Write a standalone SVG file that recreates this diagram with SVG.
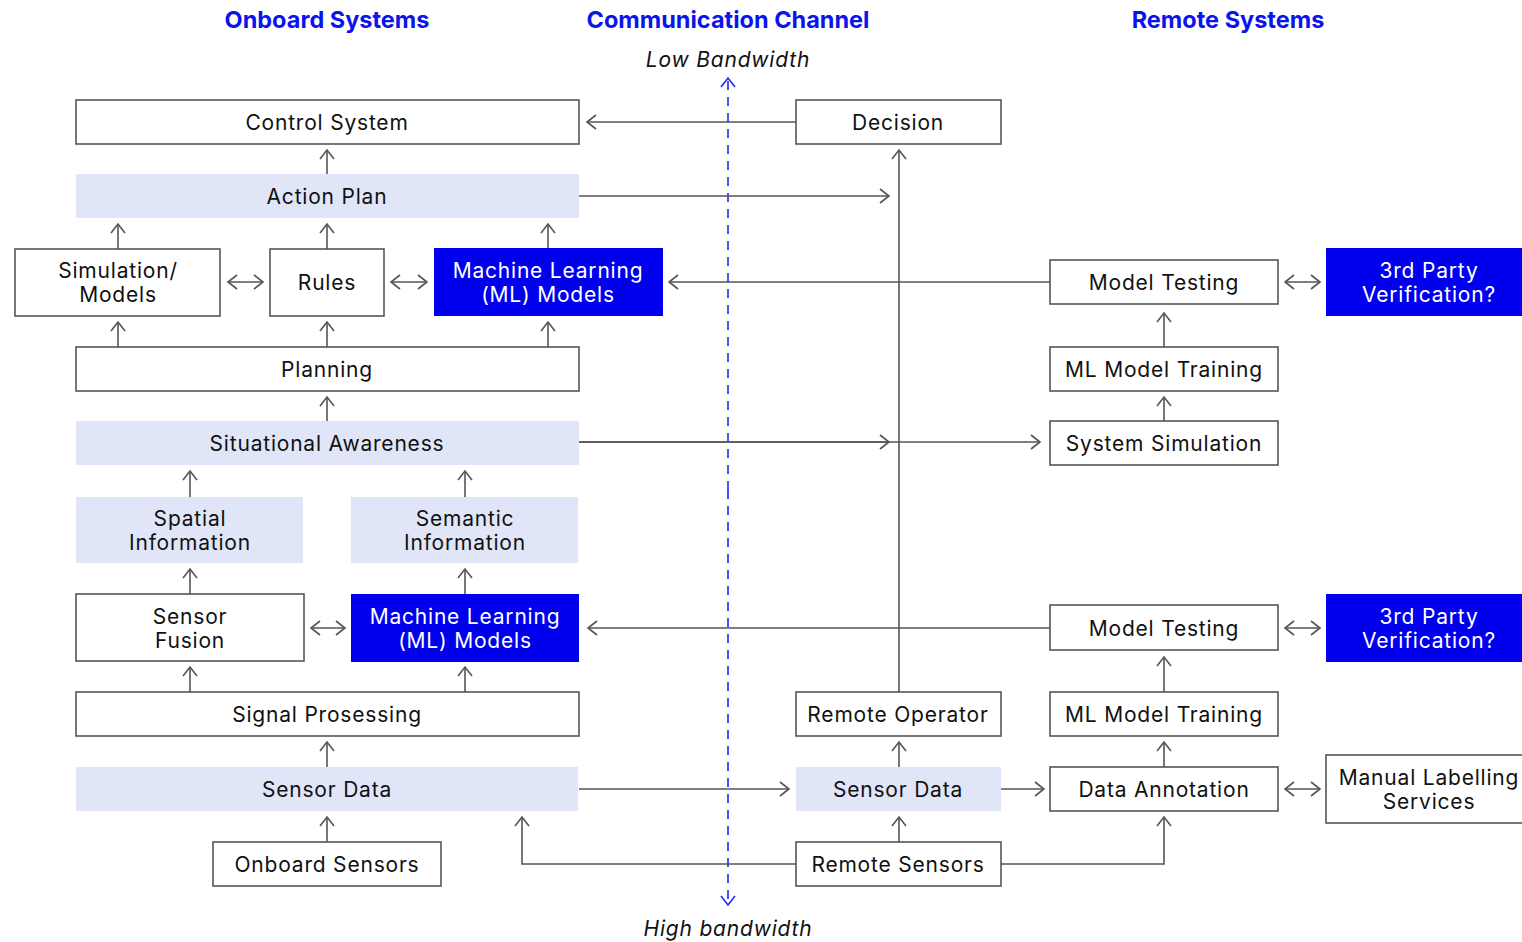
<svg xmlns="http://www.w3.org/2000/svg" width="1522" height="942" viewBox="0 0 1522 942">
<style>
.b{fill:#fff;stroke:#555;stroke-width:1.6}
.l{fill:#e0e6f8;stroke:none}
.d{fill:#0000ee;stroke:none}
.t{font-family:Inter,"Noto Sans",sans-serif;font-size:21px;letter-spacing:0.8px;fill:#111;text-anchor:middle;dominant-baseline:central}
.w{fill:#fff}
.h{font-family:Inter,"Noto Sans",sans-serif;font-size:23.5px;font-weight:700;fill:#0a14ee;text-anchor:middle}
.i{font-family:Inter,"Noto Sans",sans-serif;font-size:21px;letter-spacing:0.8px;font-style:italic;fill:#111;text-anchor:middle}
.c{fill:none;stroke:#555;stroke-width:1.6}
.a{marker-end:url(#ah)}
.aa{marker-end:url(#ah);marker-start:url(#as)}
</style>
<defs>
<marker id="ah" markerUnits="userSpaceOnUse" markerWidth="20" markerHeight="20" refX="10" refY="8" orient="auto"><path d="M1,1 L10,8 L1,15" fill="none" stroke="#555" stroke-width="1.6"/></marker>
<marker id="as" markerUnits="userSpaceOnUse" markerWidth="20" markerHeight="20" refX="1" refY="8" orient="auto"><path d="M10,1 L1,8 L10,15" fill="none" stroke="#555" stroke-width="1.6"/></marker>
<marker id="bh" markerUnits="userSpaceOnUse" markerWidth="20" markerHeight="20" refX="10" refY="8" orient="auto"><path d="M1,1 L10,8 L1,15" fill="none" stroke="#1a2cf0" stroke-width="1.6"/></marker>
</defs>
<rect width="1522" height="942" fill="#fff"/>
<text class="h" x="327" y="28">Onboard Systems</text>
<text class="h" x="728" y="28">Communication Channel</text>
<text class="h" x="1228" y="28">Remote Systems</text>
<text class="i" x="728" y="67">Low Bandwidth</text>
<text class="i" x="728" y="936">High bandwidth</text>

<g id="connectors">
<path d="M728,490 V78" fill="none" stroke="#1a2cf0" stroke-width="1.6" stroke-dasharray="9,7" marker-end="url(#bh)"/>
<path d="M728,490 V905" fill="none" stroke="#1a2cf0" stroke-width="1.6" stroke-dasharray="9,7" marker-end="url(#bh)"/>
<path class="c a" d="M796,122 H587"/>
<path class="c a" d="M327,174 V150"/>
<path class="c a" d="M579,196 H889"/>
<path class="c a" d="M118,249 V224"/>
<path class="c a" d="M327,249 V224"/>
<path class="c a" d="M548,248 V224"/>
<path class="c aa" d="M228,282 H263"/>
<path class="c aa" d="M391,282 H427"/>
<path class="c a" d="M1050,282 H669"/>
<path class="c aa" d="M1285,282 H1320"/>
<path class="c a" d="M1164,347 V313"/>
<path class="c a" d="M118,347 V322"/>
<path class="c a" d="M327,347 V322"/>
<path class="c a" d="M548,347 V322"/>
<path class="c a" d="M327,421 V397"/>
<path class="c a" d="M579,442 H889"/>
<path class="c a" d="M579,442 H1040"/>
<path class="c a" d="M1164,421 V397"/>
<path class="c a" d="M190,497 V471"/>
<path class="c a" d="M465,497 V471"/>
<path class="c a" d="M190,594 V569"/>
<path class="c a" d="M465,594 V569"/>
<path class="c aa" d="M311,628 H345"/>
<path class="c a" d="M1050,628 H588"/>
<path class="c aa" d="M1285,628 H1320"/>
<path class="c a" d="M1164,692 V657"/>
<path class="c a" d="M190,692 V667"/>
<path class="c a" d="M465,692 V667"/>
<path class="c a" d="M899,692 V150"/>
<path class="c a" d="M327,767 V742"/>
<path class="c a" d="M579,789 H789"/>
<path class="c a" d="M899,767 V742"/>
<path class="c a" d="M1001,789 H1044"/>
<path class="c a" d="M1164,767 V742"/>
<path class="c aa" d="M1285,789 H1320"/>
<path class="c a" d="M327,842 V817"/>
<path class="c a" d="M899,842 V817"/>
<path class="c a" d="M796,864 H522 V817"/>
<path class="c a" d="M1001,864 H1164 V817"/>
</g>

<g id="control-system"><rect class="b" x="76" y="100" width="503" height="44"/><text class="t" x="327" y="122">Control System</text></g>
<g id="decision"><rect class="b" x="796" y="100" width="205" height="44"/><text class="t" x="898" y="122">Decision</text></g>
<g id="action-plan"><rect class="l" x="76" y="174" width="503" height="44"/><text class="t" x="327" y="196">Action Plan</text></g>
<g id="simulation-models"><rect class="b" x="15" y="249" width="205" height="67"/><text class="t" x="118" y="270">Simulation/</text><text class="t" x="118" y="294">Models</text></g>
<g id="rules"><rect class="b" x="270" y="249" width="114" height="67"/><text class="t" x="327" y="282">Rules</text></g>
<g id="ml-models-top"><rect class="d" x="434" y="248" width="229" height="68"/><text class="t w" x="548" y="270">Machine Learning</text><text class="t w" x="548" y="294">(ML) Models</text></g>
<g id="model-testing-top"><rect class="b" x="1050" y="260" width="228" height="44"/><text class="t" x="1164" y="282">Model Testing</text></g>
<g id="third-party-top"><rect class="d" x="1326" y="248" width="196" height="68"/><text class="t w" x="1429" y="270">3rd Party</text><text class="t w" x="1429" y="294">Verification?</text></g>
<g id="planning"><rect class="b" x="76" y="347" width="503" height="44"/><text class="t" x="327" y="369">Planning</text></g>
<g id="ml-training-top"><rect class="b" x="1050" y="347" width="228" height="44"/><text class="t" x="1164" y="369">ML Model Training</text></g>
<g id="situational-awareness"><rect class="l" x="76" y="421" width="503" height="44"/><text class="t" x="327" y="443">Situational Awareness</text></g>
<g id="system-simulation"><rect class="b" x="1050" y="421" width="228" height="44"/><text class="t" x="1164" y="443">System Simulation</text></g>
<g id="spatial-information"><rect class="l" x="76" y="497" width="227" height="66"/><text class="t" x="190" y="518">Spatial</text><text class="t" x="190" y="542">Information</text></g>
<g id="semantic-information"><rect class="l" x="351" y="497" width="227" height="66"/><text class="t" x="465" y="518">Semantic</text><text class="t" x="465" y="542">Information</text></g>
<g id="sensor-fusion"><rect class="b" x="76" y="594" width="228" height="67"/><text class="t" x="190" y="616">Sensor</text><text class="t" x="190" y="640">Fusion</text></g>
<g id="ml-models-bottom"><rect class="d" x="351" y="594" width="228" height="68"/><text class="t w" x="465" y="616">Machine Learning</text><text class="t w" x="465" y="640">(ML) Models</text></g>
<g id="model-testing-bottom"><rect class="b" x="1050" y="605" width="228" height="45"/><text class="t" x="1164" y="628">Model Testing</text></g>
<g id="third-party-bottom"><rect class="d" x="1326" y="594" width="196" height="68"/><text class="t w" x="1429" y="616">3rd Party</text><text class="t w" x="1429" y="640">Verification?</text></g>
<g id="signal-prosessing"><rect class="b" x="76" y="692" width="503" height="44"/><text class="t" x="327" y="714">Signal Prosessing</text></g>
<g id="remote-operator"><rect class="b" x="796" y="692" width="205" height="44"/><text class="t" x="898" y="714">Remote Operator</text></g>
<g id="ml-training-bottom"><rect class="b" x="1050" y="692" width="228" height="44"/><text class="t" x="1164" y="714">ML Model Training</text></g>
<g id="sensor-data-onboard"><rect class="l" x="76" y="767" width="502" height="44"/><text class="t" x="327" y="789">Sensor Data</text></g>
<g id="sensor-data-remote"><rect class="l" x="796" y="767" width="205" height="44"/><text class="t" x="898" y="789">Sensor Data</text></g>
<g id="data-annotation"><rect class="b" x="1050" y="767" width="228" height="44"/><text class="t" x="1164" y="789">Data Annotation</text></g>
<g id="manual-labelling"><rect class="b" x="1326" y="755" width="200" height="68"/><text class="t" x="1429" y="777">Manual Labelling</text><text class="t" x="1429" y="801">Services</text></g>
<g id="onboard-sensors"><rect class="b" x="213" y="842" width="228" height="44"/><text class="t" x="327" y="864">Onboard Sensors</text></g>
<g id="remote-sensors"><rect class="b" x="796" y="842" width="205" height="44"/><text class="t" x="898" y="864">Remote Sensors</text></g>
</svg>
